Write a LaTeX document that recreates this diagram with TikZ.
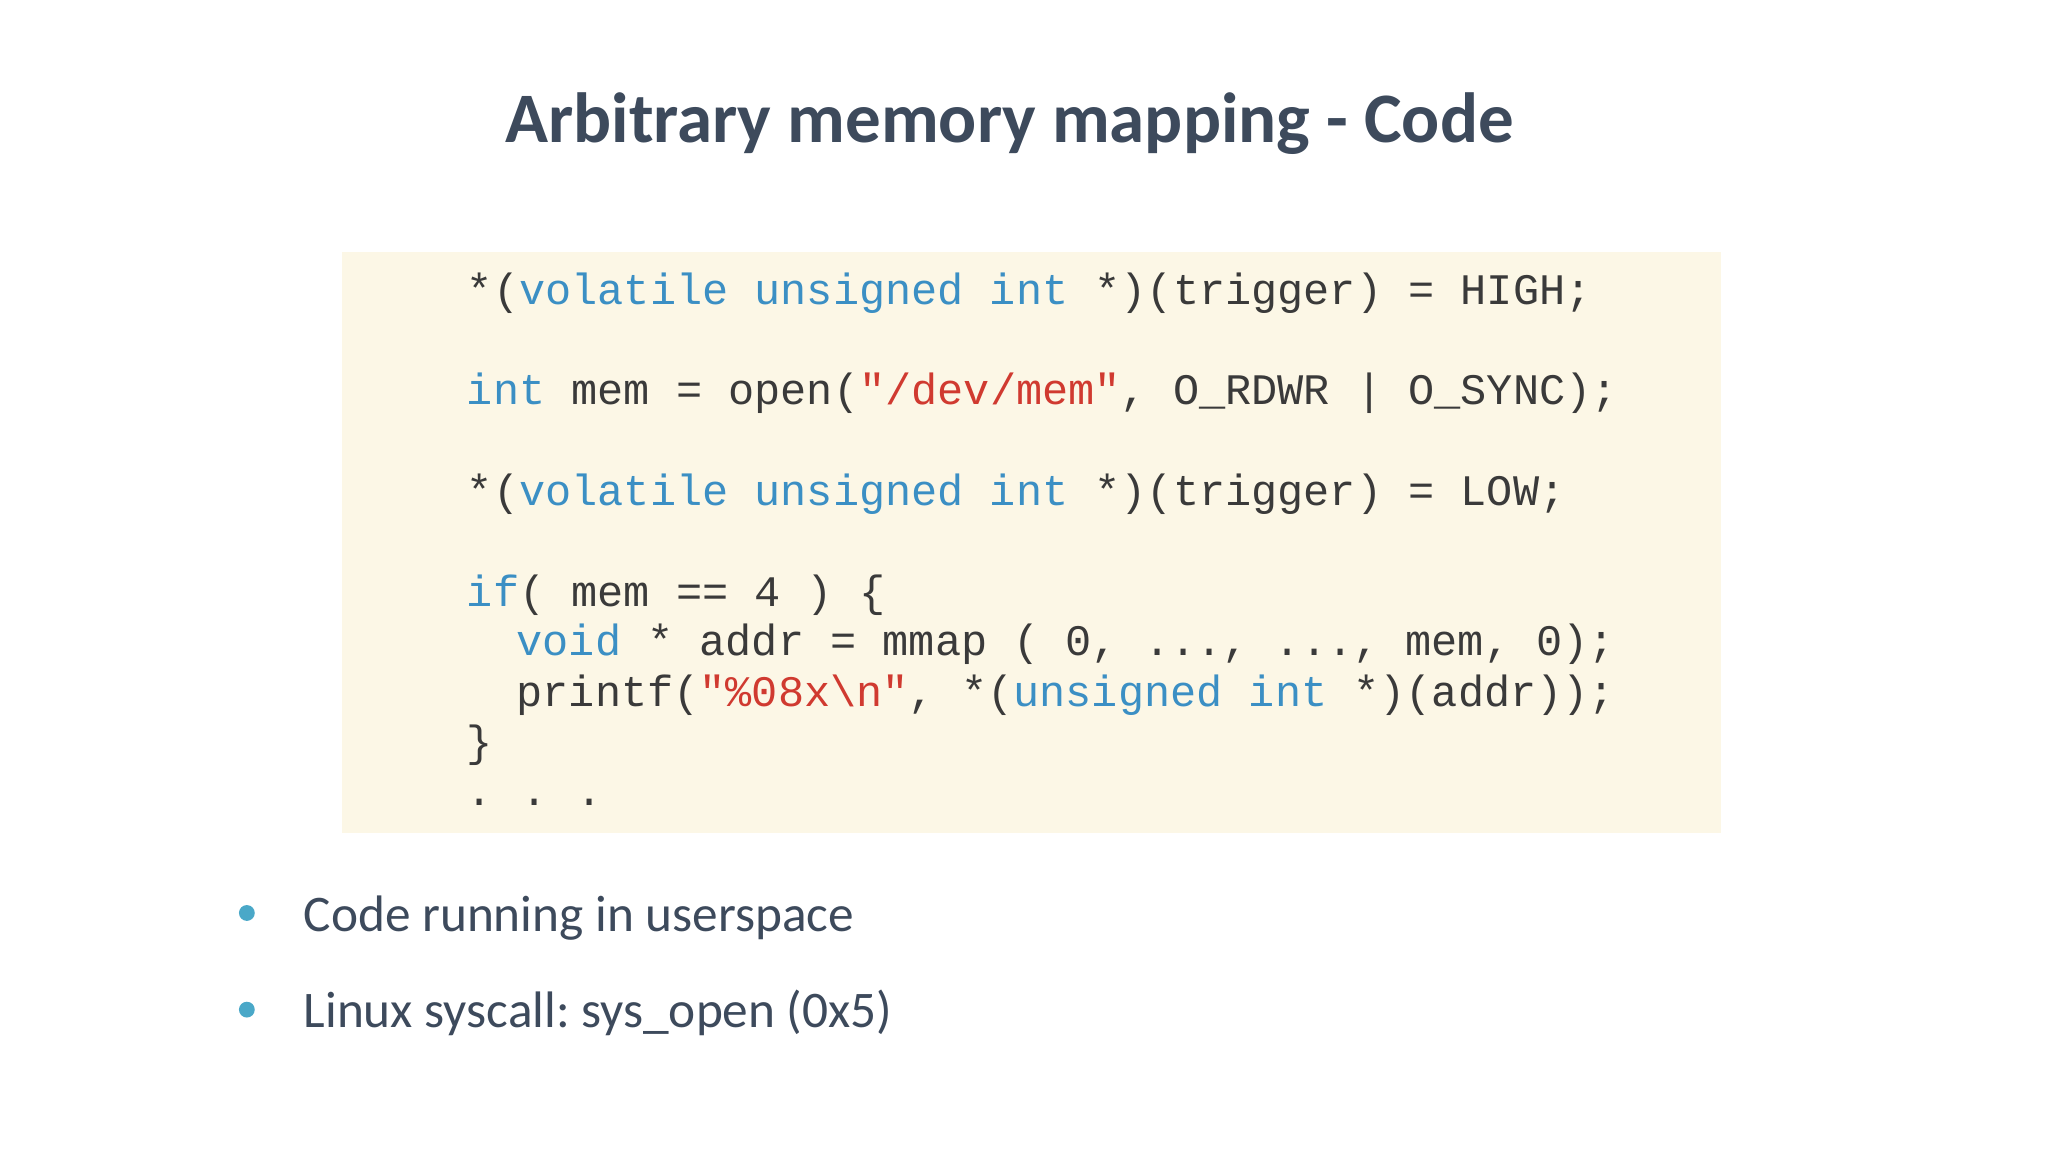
\documentclass[tikz,border=0pt]{standalone}
\usepackage{fontspec}
\setmainfont{Carlito}
\newfontfamily\codefont{Liberation Mono}
\definecolor{titlec}{HTML}{3D4A5C}
\definecolor{boxc}{HTML}{FCF7E6}
\definecolor{kwc}{HTML}{3B8FC4}
\definecolor{stc}{HTML}{D03A30}
\definecolor{txc}{HTML}{3A3A3A}
\definecolor{bulc}{HTML}{4AA8C8}
\newcommand{\kwd}[1]{\textcolor{kwc}{#1}}
\newcommand{\strg}[1]{\textcolor{stc}{#1}}
\tikzset{codeline/.style={anchor=base west,inner sep=0,font=\codefont\frenchspacing\fontsize{12.4}{14}\selectfont,text=txc},
bul/.style={anchor=base west,inner sep=0,font=\frenchspacing\fontsize{14.6}{18}\selectfont,text=titlec},
dot/.style={circle,fill=bulc,inner sep=0,minimum size=4.5pt}}
\begin{document}
\begin{tikzpicture}[x=0.013061cm,y=-0.013061cm]
\useasboundingbox (0,0) rectangle (1568,882);
\node[font=\bfseries\fontsize{20.2}{24}\selectfont,text=titlec,anchor=base] (title) at (773,109) {Arbitrary memory mapping - Code};
\fill[boxc] (262,193) rectangle (1318,638);
\node[codeline] (l1) at (357,233) {*(\kwd{volatile unsigned int} *)(trigger) = HIGH;};
\node[codeline] (l2) at (357,310) {\kwd{int} mem = open(\strg{"/dev/mem"}, O\_RDWR | O\_SYNC);};
\node[codeline] (l3) at (357,387) {*(\kwd{volatile unsigned int} *)(trigger) = LOW;};
\node[codeline] (l4) at (357,464) {\kwd{if}( mem == 4 ) \{};
\node[codeline] (l5) at (395,502) {\kwd{void} * addr = mmap ( 0, ..., ..., mem, 0);};
\node[codeline] (l6) at (395,541) {printf(\strg{"\%08x\textbackslash n"}, *(\kwd{unsigned int} *)(addr));};
\node[codeline] (l7) at (357,579) {\}};
\node[codeline] (l8) at (357,617) {.\hspace{0.66em}.\hspace{0.66em}.};
\node[dot] (d1) at (189,699) {};
\node[bul] (b1) at (232,713) {Code running in userspace};
\node[dot] (d2) at (189,773) {};
\node[bul] (b2) at (232,787) {Linux syscall: sys\_open (0x5)};
\end{tikzpicture}
\end{document}
